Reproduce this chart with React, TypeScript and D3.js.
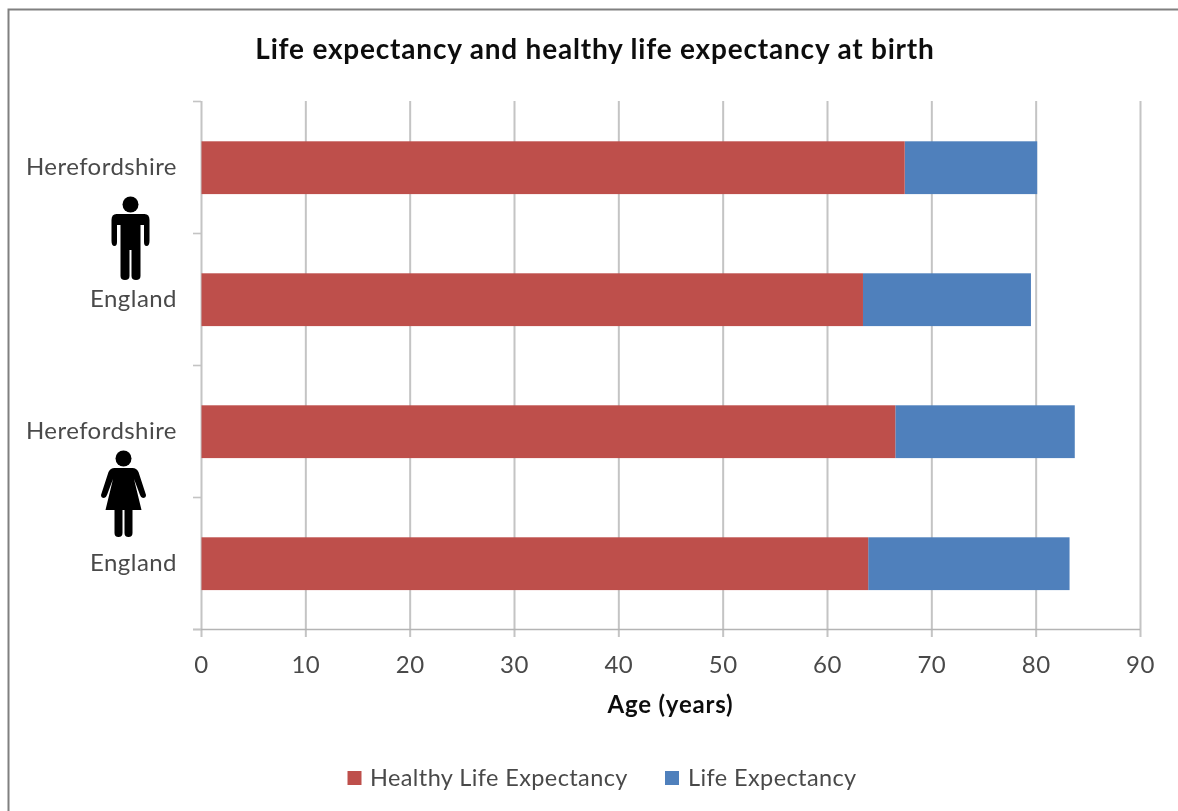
import React from "react";
import * as d3 from "d3";

const categories = ["Herefordshire (male)", "England (male)", "Herefordshire (female)", "England (female)"];
const categoryLabels = ["Herefordshire", "England", "Herefordshire", "England"];
const healthyLifeExpectancy = [67.4, 63.4, 66.5, 63.9];
const lifeExpectancy = [80.1, 79.5, 83.7, 83.2];
const xTicks = [0, 10, 20, 30, 40, 50, 60, 70, 80, 90];
const title = "Life expectancy and healthy life expectancy at birth";
const xTitle = "Age (years)";
const legendLabels = ["Healthy Life Expectancy", "Life Expectancy"];

const RED = "#BE4F4C";
const BLUE = "#4F80BC";
const GRID = "#C4C4C4";
const TEXT = "#4a4a4a";
const FONT = "Lato, 'Noto Sans', sans-serif";

const x = d3.scaleLinear().domain([0, 90]).range([201.5, 1140.5]);
const y = d3.scaleBand<string>().domain(categories).range([101.7, 629.7]).paddingInner(0.6).paddingOuter(0.3);
const bandEdges = d3.range(categories.length + 1).map((i) => 101.5 + (i * (629.5 - 101.5)) / categories.length);

function Man({ cx, top }: { cx: number; top: number }) {
  return (
    <g transform={`translate(${cx},${top})`} fill="#000">
      <circle cx={0} cy={7.5} r={8} />
      <path d="M-14,17 Q-19,17 -19,23 L-19,44 Q-19,49 -16,49 Q-13.5,49 -13.5,45 L-13.5,28 L-12,28 L-10,28 L-10,79 Q-10,83 -5.5,83 Q-1,83 -1,79 L-1,53 L1,53 L1,79 Q1,83 5.5,83 Q10,83 10,79 L10,28 L13.5,28 L13.5,45 Q13.5,49 16,49 Q19,49 19,44 L19,23 Q19,17 14,17 Z" />
    </g>
  );
}

function Woman({ cx, top }: { cx: number; top: number }) {
  return (
    <g transform={`translate(${cx},${top})`} fill="#000">
      <circle cx={0} cy={6.5} r={8} />
      <path d="M-9,16 Q-13,16 -15,20 L-22.5,43 Q-22.5,46 -19.5,46 Q-17.5,46 -16.5,43 L-10.5,27 L-18,58 L-9,58 L-9,81 Q-9,85 -5,85 Q-1,85 -1,81 L-1,58 L1,58 L1,81 Q1,85 5,85 Q9,85 9,81 L9,58 L18,58 L10.5,27 L16.5,43 Q17.5,46 19.5,46 Q22.5,46 22.5,43 L15,20 Q13,16 9,16 Z" />
    </g>
  );
}

export default function App() {
  return (
    <svg
      width={1178}
      height={811}
      style={{ position: "absolute", left: 0, top: 0, background: "#fff", fontFamily: FONT }}
    >
      <defs>
        <filter id="soft" x="-2%" y="-2%" width="104%" height="104%">
          <feGaussianBlur stdDeviation={0.6} />
        </filter>
      </defs>
      <g filter="url(#soft)">
        <path d="M8.5,811 L8.5,9.5 L1178,9.5" fill="none" stroke="#808080" strokeWidth={2} />
        <text x={595} y={59} textAnchor="middle" fontSize={28} letterSpacing={0.8} fontWeight={700} fill="#111">{title}</text>

        {xTicks.map((t) => (
          <line key={t} x1={x(t)} x2={x(t)} y1={101} y2={637} stroke={GRID} strokeWidth={2} />
        ))}
        <line x1={193} x2={1140} y1={629.5} y2={629.5} stroke="#B4B4B4" strokeWidth={1.6} />
        {bandEdges.map((e) => (
          <line key={e} x1={193} x2={201} y1={e} y2={e} stroke={GRID} strokeWidth={1.6} />
        ))}

        {categories.map((c, i) => (
          <g key={c}>
            <rect x={x(healthyLifeExpectancy[i])} y={y(c)} width={x(lifeExpectancy[i]) - x(healthyLifeExpectancy[i])} height={y.bandwidth()} fill={BLUE} />
            <rect x={x(0)} y={y(c)} width={x(healthyLifeExpectancy[i]) - x(0)} height={y.bandwidth()} fill={RED} />
            <text x={177} y={y(c)! + y.bandwidth() / 2 + 7} textAnchor="end" fontSize={24} letterSpacing={0.45} fill={TEXT}>{categoryLabels[i]}</text>
          </g>
        ))}

        {xTicks.map((t) => (
          <text key={t} x={x(t)} y={673} textAnchor="middle" fontSize={24} letterSpacing={0.5} fill={TEXT}>{t}</text>
        ))}
        <text x={670.5} y={713} textAnchor="middle" fontSize={24} letterSpacing={0.8} fontWeight={700} fill="#111">{xTitle}</text>

        <rect x={347.5} y={771} width={14} height={14} fill={RED} />
        <text x={370} y={786} fontSize={23.5} letterSpacing={0.4} fill={TEXT}>{legendLabels[0]}</text>
        <rect x={665} y={771} width={14} height={14} fill={BLUE} />
        <text x={688} y={786} fontSize={23.5} letterSpacing={0.4} fill={TEXT}>{legendLabels[1]}</text>

        <Man cx={130.5} top={197} />
        <Woman cx={123.5} top={452} />
      </g>
    </svg>
  );
}
